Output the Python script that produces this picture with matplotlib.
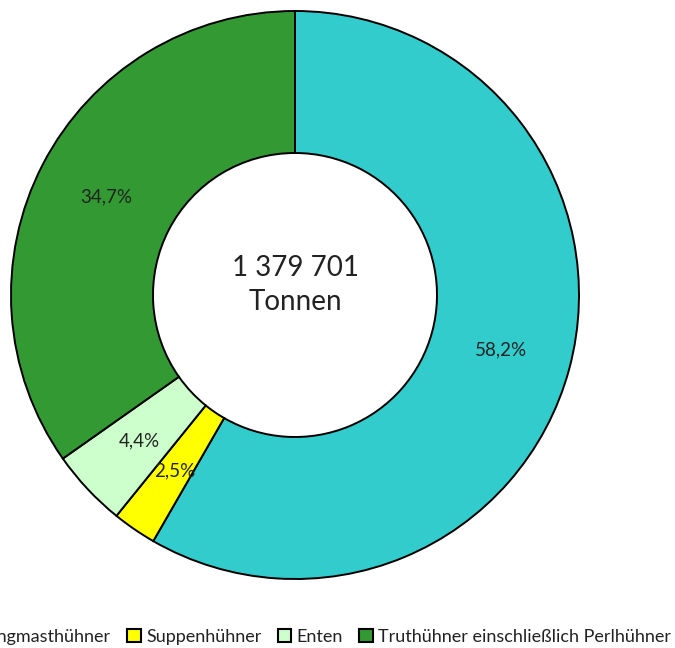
import matplotlib
matplotlib.use("Agg")
import matplotlib.pyplot as plt
from matplotlib.patches import Patch
import numpy as np

categories = ["Jungmasthühner", "Suppenhühner", "Enten", "Truthühner einschließlich Perlhühner"]
shares = [58.2, 2.5, 4.4, 34.7]
labels = ["58,2%", "2,5%", "4,4%", "34,7%"]
colors = ["#33CCCC", "#FFFF00", "#CCFFCC", "#339933"]
center_text = "1 379 701\nTonnen"

plt.rcParams['font.family'] = ['Lato', 'DejaVu Sans']

fig = plt.figure(figsize=(6.75, 6.48), dpi=100)
W, H = 675, 648
cx, cy, R = 295, 295, 284
ax = fig.add_axes([(cx - R) / W, (H - cy - R) / H, 2 * R / W, 2 * R / H])

wedges, texts = ax.pie(shares, colors=colors, startangle=90, counterclock=False,
                       radius=1.0,
                       wedgeprops=dict(width=0.5, edgecolor="black", linewidth=1.4))
for w, lab in zip(wedges, labels):
    ang = np.deg2rad((w.theta1 + w.theta2) / 2)
    r = 0.75
    ax.text(r * np.cos(ang), r * np.sin(ang), lab, ha="center", va="center",
            fontsize=13.5, color="#222222")

ax.text(0, 0.035, center_text, ha="center", va="center", fontsize=20,
        color="#222222", linespacing=1.4)
ax.set_xlim(-1.0, 1.0)
ax.set_ylim(-1.0, 1.0)
ax.set_aspect("equal")
ax.axis("off")

handles = [Patch(facecolor=c, edgecolor="black", linewidth=1.5) for c in colors]
leg = fig.legend(handles, categories, ncol=4, loc="center right",
                 bbox_to_anchor=(1.0, 1 - 637 / H), frameon=False,
                 fontsize=13, handlelength=0.75, handleheight=0.75,
                 handletextpad=0.3, columnspacing=0.9, borderaxespad=0.1,
                 borderpad=0.1)
for t in leg.get_texts():
    t.set_color("#222222")
fig.savefig("out.png", dpi=100)
